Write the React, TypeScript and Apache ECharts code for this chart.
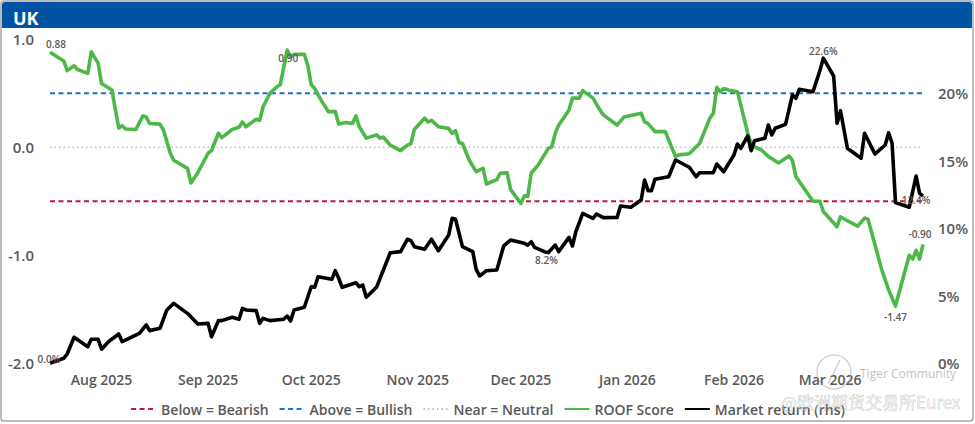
import React, { useEffect, useRef } from "react";
import * as echarts from "echarts";

// ---------- DATA ----------
const roofDates = [
  "2025-07-17","2025-07-21","2025-07-22","2025-07-24","2025-07-25","2025-07-28","2025-07-29","2025-07-31",
  "2025-08-01","2025-08-04","2025-08-06","2025-08-07","2025-08-08","2025-08-11","2025-08-13","2025-08-14",
  "2025-08-15","2025-08-18","2025-08-19","2025-08-21","2025-08-22","2025-08-26","2025-08-27","2025-08-29",
  "2025-09-01","2025-09-02","2025-09-04","2025-09-05","2025-09-08","2025-09-10","2025-09-11","2025-09-12",
  "2025-09-15","2025-09-16","2025-09-17","2025-09-19","2025-09-21","2025-09-22","2025-09-24","2025-09-25",
  "2025-09-26","2025-09-29","2025-09-30","2025-10-01","2025-10-02","2025-10-04","2025-10-06","2025-10-08",
  "2025-10-09","2025-10-11","2025-10-13","2025-10-14","2025-10-15","2025-10-17","2025-10-20","2025-10-21",
  "2025-10-22","2025-10-24","2025-10-27","2025-10-29","2025-10-30","2025-10-31","2025-11-03","2025-11-04",
  "2025-11-05","2025-11-07","2025-11-10","2025-11-11","2025-11-12","2025-11-13","2025-11-14","2025-11-16",
  "2025-11-18","2025-11-20","2025-11-21","2025-11-24","2025-11-25","2025-11-27","2025-11-28","2025-12-01",
  "2025-12-02","2025-12-03","2025-12-04","2025-12-06","2025-12-09","2025-12-10","2025-12-11","2025-12-12",
  "2025-12-15","2025-12-16","2025-12-18","2025-12-19","2025-12-22","2025-12-24","2025-12-25","2025-12-29",
  "2025-12-31","2026-01-05","2026-01-06","2026-01-07","2026-01-09","2026-01-12","2026-01-15","2026-01-16",
  "2026-01-19","2026-01-21","2026-01-22","2026-01-25","2026-01-26","2026-01-27","2026-01-28","2026-01-29",
  "2026-01-31","2026-02-02","2026-02-03","2026-02-05","2026-02-06","2026-02-07","2026-02-09","2026-02-11",
  "2026-02-14","2026-02-17","2026-02-18","2026-02-19","2026-02-24","2026-02-26","2026-02-27","2026-03-03",
  "2026-03-04","2026-03-06","2026-03-09","2026-03-11","2026-03-12","2026-03-16","2026-03-18","2026-03-20",
  "2026-03-24","2026-03-25","2026-03-26","2026-03-27","2026-03-28"
];
const roofValues = [
  0.88,0.80,0.71,0.755,0.72,0.685,0.885,0.78,
  0.59,0.53,0.18,0.20,0.17,0.165,0.29,0.28,
  0.22,0.215,0.16,-0.055,-0.12,-0.195,-0.33,-0.235,
  -0.055,-0.03,0.13,0.09,0.165,0.185,0.235,0.19,
  0.26,0.25,0.375,0.50,0.56,0.58,0.90,0.84,
  0.86,0.86,0.76,0.58,0.545,0.43,0.33,0.33,
  0.215,0.23,0.22,0.29,0.19,0.085,0.115,0.085,
  0.095,0.02,-0.03,0.02,0.035,0.165,0.27,0.235,
  0.25,0.19,0.175,0.13,0.155,0.045,0.035,-0.12,
  -0.225,-0.195,-0.34,-0.30,-0.24,-0.235,-0.39,-0.52,
  -0.45,-0.455,-0.24,-0.165,-0.01,0.005,0.13,0.205,
  0.345,0.455,0.455,0.525,0.455,0.345,0.30,0.205,
  0.28,0.315,0.235,0.22,0.145,0.145,-0.085,-0.07,
  -0.06,0.005,0.035,0.27,0.315,0.555,0.515,0.545,
  0.525,0.515,0.39,0.13,0.035,0.005,-0.025,-0.085,
  -0.145,-0.08,-0.12,-0.27,-0.50,-0.50,-0.595,-0.735,
  -0.645,-0.68,-0.73,-0.655,-0.665,-1.135,-1.32,-1.47,
  -1.00,-1.035,-0.955,-1.035,-0.90
];

const marketDates = [
  "2025-07-17","2025-07-21","2025-07-22","2025-07-24","2025-07-28","2025-07-29","2025-07-31","2025-08-01",
  "2025-08-03","2025-08-06","2025-08-07","2025-08-12","2025-08-14","2025-08-15","2025-08-18","2025-08-20",
  "2025-08-22","2025-08-26","2025-08-29","2025-09-01","2025-09-02","2025-09-04","2025-09-05","2025-09-08",
  "2025-09-10","2025-09-11","2025-09-12","2025-09-15","2025-09-16","2025-09-17","2025-09-19","2025-09-23",
  "2025-09-24","2025-09-25","2025-09-26","2025-09-29","2025-10-01","2025-10-02","2025-10-03","2025-10-07",
  "2025-10-08","2025-10-09","2025-10-10","2025-10-14","2025-10-15","2025-10-16","2025-10-17","2025-10-20",
  "2025-10-22","2025-10-24","2025-10-27","2025-10-29","2025-10-30","2025-10-31","2025-11-03","2025-11-05",
  "2025-11-07","2025-11-10","2025-11-11","2025-11-12","2025-11-14","2025-11-17","2025-11-18","2025-11-19",
  "2025-11-21","2025-11-24","2025-11-26","2025-11-28","2025-12-02","2025-12-03","2025-12-04","2025-12-05",
  "2025-12-08","2025-12-09","2025-12-11","2025-12-12","2025-12-15","2025-12-16","2025-12-17","2025-12-19",
  "2025-12-22","2025-12-23","2025-12-25","2025-12-29","2025-12-30","2026-01-02","2026-01-05","2026-01-06",
  "2026-01-07","2026-01-08","2026-01-09","2026-01-13","2026-01-15","2026-01-19","2026-01-21","2026-01-22",
  "2026-01-26","2026-01-27","2026-01-29","2026-02-01","2026-02-02","2026-02-03","2026-02-05","2026-02-06",
  "2026-02-07","2026-02-10","2026-02-11","2026-02-12","2026-02-13","2026-02-16","2026-02-18","2026-02-19",
  "2026-02-20","2026-02-24","2026-02-26","2026-02-27","2026-03-02","2026-03-03","2026-03-04","2026-03-06",
  "2026-03-10","2026-03-11","2026-03-14","2026-03-17","2026-03-18","2026-03-19","2026-03-20","2026-03-24",
  "2026-03-26","2026-03-27","2026-03-28"
];
const marketValues = [
  0.0,0.37,0.69,1.93,1.23,1.78,1.78,1.04,
  1.6,2.17,1.6,2.22,2.84,2.42,2.59,3.95,
  4.44,3.70,2.91,2.96,1.97,3.16,3.16,3.41,
  3.26,4.07,3.95,3.9,2.96,3.33,3.16,3.26,
  3.5,3.13,3.95,4.15,5.67,5.63,6.41,6.22,
  6.86,6.30,5.63,5.97,5.67,5.80,4.89,5.63,
  6.91,8.19,8.27,9.19,9.08,8.64,8.44,9.19,
  8.34,9.50,10.74,10.67,8.64,8.27,6.96,6.47,
  6.86,6.91,8.69,9.13,8.89,8.76,9.01,8.59,
  8.25,8.2,8.76,8.27,9.33,8.69,9.75,11.11,
  10.74,11.06,10.79,10.81,11.65,11.56,12.1,13.58,
  12.79,12.79,13.63,13.82,15.06,14.52,13.82,14.12,
  14.12,14.76,14.19,15.43,16.24,15.93,16.84,15.75,
  16.49,16.67,17.65,16.91,17.41,17.7,19.87,19.63,
  20.30,20.12,21.67,22.6,21.28,17.78,18.71,15.93,
  15.19,17.04,15.5,16.17,17.08,16.3,11.9,11.56,
  13.87,12.59,12.4
];

const bullishLevel = 0.5;
const neutralLevel = 0;
const bearishLevel = -0.5;

const axisStart = "2025-07-17";
const axisEnd = "2026-03-28";
const monthTicks = [
  "2025-08-01","2025-09-01","2025-10-01","2025-11-01",
  "2025-12-01","2026-01-01","2026-02-01","2026-03-01"
];
const monthNames = ["Jan","Feb","Mar","Apr","May","Jun","Jul","Aug","Sep","Oct","Nov","Dec"];
const leftTicks = [-2, -1, 0, 1];
const rightTicks = [0, 5, 10, 15, 20];

const roofLabelDates = ["2025-07-17", "2025-09-24", "2026-03-20", "2026-03-28"];
const marketLabelDates = ["2025-07-17", "2025-12-09", "2026-02-27", "2026-03-28"];

const legendNames = ["Below = Bearish", "Above = Bullish", "Near = Neutral", "ROOF Score", "Market return (rhs)"];
const titleText = "UK";
const watermarkTop = "Tiger Community";
const watermarkBottom = "@欧洲期货交易所Eurex";

// ---------- helpers ----------
const toTs = (s: string) => {
  const [y, m, d] = s.split("-").map(Number);
  return new Date(y, m - 1, d).getTime();
};
const pairs = (dates: string[], vals: number[]) => dates.map((d, i) => [toTs(d), vals[i]]);

const FONT = "'Open Sans', 'Noto Sans', sans-serif";
const GREY = "#595959";

export default function App() {
  const ref = useRef<HTMLDivElement>(null);

  useEffect(() => {
    if (!ref.current) return;
    const chart = echarts.init(ref.current, undefined, { renderer: "svg" });

    const roofLabelStyle: Record<string, any> = {
      "2025-07-17": { position: "top", offset: [6, 1], distance: 4 },
      "2025-09-24": { position: "bottom", offset: [1, -1], distance: 3 },
      "2026-03-20": { position: "bottom", distance: 5 },
      "2026-03-28": { position: "top", offset: [-3, 0], distance: 5 },
    };
    const marketLabelStyle: Record<string, any> = {
      "2025-07-17": { position: "inside", offset: [-1, -4] },
      "2025-12-09": { position: "bottom", offset: [-2, 0], distance: 2 },
      "2026-02-27": { position: "top", offset: [0, 0], distance: 2 },
      "2026-03-28": { position: "inside", offset: [-7, 4] },
    };

    const roofMarks = roofLabelDates.map((d) => {
      const v = roofValues[roofDates.indexOf(d)];
      return { coord: [toTs(d), v], value: v, label: roofLabelStyle[d] };
    });
    const marketMarks = marketLabelDates.map((d) => {
      const v = marketValues[marketDates.indexOf(d)];
      return { coord: [toTs(d), v], value: v, label: marketLabelStyle[d] };
    });

    const markLabelBase = {
      show: true,
      color: GREY,
      fontSize: 10,
      fontWeight: 600,
      fontFamily: FONT,
    };

    const axisLabelStyle = {
      color: GREY,
      fontSize: 14,
      fontWeight: 600,
      fontFamily: FONT,
    };

    const option: any = {
      animation: false,
      backgroundColor: "#ffffff",
      title: {
        text: titleText,
        left: 8,
        top: 4,
        textStyle: { color: "#ffffff", fontSize: 18, fontWeight: "bold", fontFamily: FONT },
      },
      graphic: [
        {
          type: "rect",
          z: 0,
          shape: { x: 2, y: 2, width: 970, height: 26, r: [3, 3, 0, 0] },
          style: { fill: "#0052A2" },
          silent: true,
        },
        {
          type: "rect",
          z: 0,
          shape: { x: 1, y: 1, width: 972, height: 420, r: 3 },
          style: { fill: "none", stroke: "#a6a6a6", lineWidth: 1.5 },
          silent: true,
        },
        {
          type: "circle",
          z: 10,
          shape: { cx: 834, cy: 372, r: 17 },
          style: { fill: "none", stroke: "rgba(160,160,160,0.55)", lineWidth: 1.2 },
          silent: true,
        },
        {
          type: "line",
          z: 10,
          shape: { x1: 828, y1: 384, x2: 840, y2: 360 },
          style: { stroke: "rgba(160,160,160,0.55)", lineWidth: 1.2 },
          silent: true,
        },
        {
          type: "text",
          z: 10,
          x: 860,
          y: 373,
          style: {
            text: watermarkTop,
            fill: "rgba(165,165,165,0.7)",
            fontSize: 12,
            fontFamily: FONT,
            verticalAlign: "middle",
          },
          silent: true,
        },
        {
          type: "text",
          z: 10,
          x: 781,
          y: 401,
          style: {
            text: watermarkBottom,
            fill: "rgba(240,240,240,0.4)",
            stroke: "rgba(150,150,150,0.5)",
            lineWidth: 0.6,
            fontSize: 17,
            fontFamily: "'Noto Sans CJK SC', sans-serif",
            verticalAlign: "middle",
          },
          silent: true,
        },
      ],
      legend: {
        data: legendNames,
        top: 397,
        left: "center",
        itemWidth: 25,
        itemHeight: 14,
        itemGap: 10,
        lineStyle: { width: 2 },
        itemStyle: { opacity: 0 },
        textStyle: { color: GREY, fontSize: 14, fontWeight: 600, fontFamily: FONT },
      },
      grid: { left: 50, right: 52, top: 39.3, bottom: 60.7 },
      xAxis: {
        type: "value",
        min: toTs(axisStart),
        max: toTs(axisEnd),
        axisLine: { show: false },
        axisTick: { show: false },
        splitLine: { show: false },
        axisLabel: {
          ...axisLabelStyle,
          margin: 9,
          customValues: monthTicks.map(toTs),
          formatter: (v: number) => {
            const d = new Date(v);
            return monthNames[d.getMonth()] + " " + d.getFullYear();
          },
        },
      },
      yAxis: [
        {
          type: "value",
          min: -2,
          max: 1,
          interval: 1,
          axisLine: { show: false },
          axisTick: { show: false },
          splitLine: { show: false },
          axisLabel: {
            ...axisLabelStyle,
            fontSize: 15,
            margin: 16,
            customValues: leftTicks,
            formatter: (v: number) => v.toFixed(1),
          },
        },
        {
          type: "value",
          min: 0,
          max: 24,
          position: "right",
          axisLine: { show: false },
          axisTick: { show: false },
          splitLine: { show: false },
          axisLabel: {
            ...axisLabelStyle,
            fontSize: 15,
            margin: 15,
            customValues: rightTicks,
            formatter: (v: number) => v + "%",
          },
        },
      ],
      series: [
        {
          name: legendNames[0],
          type: "line",
          symbol: "none",
          silent: true,
          data: [[toTs(axisStart), bearishLevel], [toTs(axisEnd), bearishLevel]],
          lineStyle: { color: "#C0143C", width: 2, type: [5, 3.5] },
          itemStyle: { color: "#C0143C" },
        },
        {
          name: legendNames[1],
          type: "line",
          symbol: "none",
          silent: true,
          data: [[toTs(axisStart), bullishLevel], [toTs(axisEnd), bullishLevel]],
          lineStyle: { color: "#1F6FC6", width: 2, type: [5, 3.5] },
          itemStyle: { color: "#1F6FC6" },
        },
        {
          name: legendNames[2],
          type: "line",
          symbol: "none",
          silent: true,
          data: [[toTs(axisStart), neutralLevel], [toTs(axisEnd), neutralLevel]],
          lineStyle: { color: "#BEBEBE", width: 1.5, type: [1.5, 3] },
          itemStyle: { color: "#BEBEBE" },
        },
        {
          name: legendNames[3],
          type: "line",
          symbol: "none",
          data: pairs(roofDates, roofValues),
          lineStyle: { color: "#4DB848", width: 3.6, join: "round" },
          itemStyle: { color: "#4DB848" },
          markPoint: {
            symbol: "circle",
            symbolSize: 1,
            itemStyle: { color: "rgba(0,0,0,0)" },
            label: { ...markLabelBase, formatter: (p: any) => Number(p.value).toFixed(2) },
            data: roofMarks,
          },
        },
        {
          name: legendNames[4],
          type: "line",
          yAxisIndex: 1,
          symbol: "none",
          data: pairs(marketDates, marketValues),
          lineStyle: { color: "#000000", width: 3.6, join: "round" },
          itemStyle: { color: "#000000" },
          markPoint: {
            symbol: "circle",
            symbolSize: 1,
            itemStyle: { color: "rgba(0,0,0,0)" },
            label: { ...markLabelBase, formatter: (p: any) => Number(p.value).toFixed(1) + "%" },
            data: marketMarks,
          },
        },
      ],
    };

    chart.setOption(option);
    return () => chart.dispose();
  }, []);

  return (
    <div
      ref={ref}
      style={{ position: "fixed", left: 0, top: 0, width: 975, height: 424, background: "#fff" }}
    />
  );
}
